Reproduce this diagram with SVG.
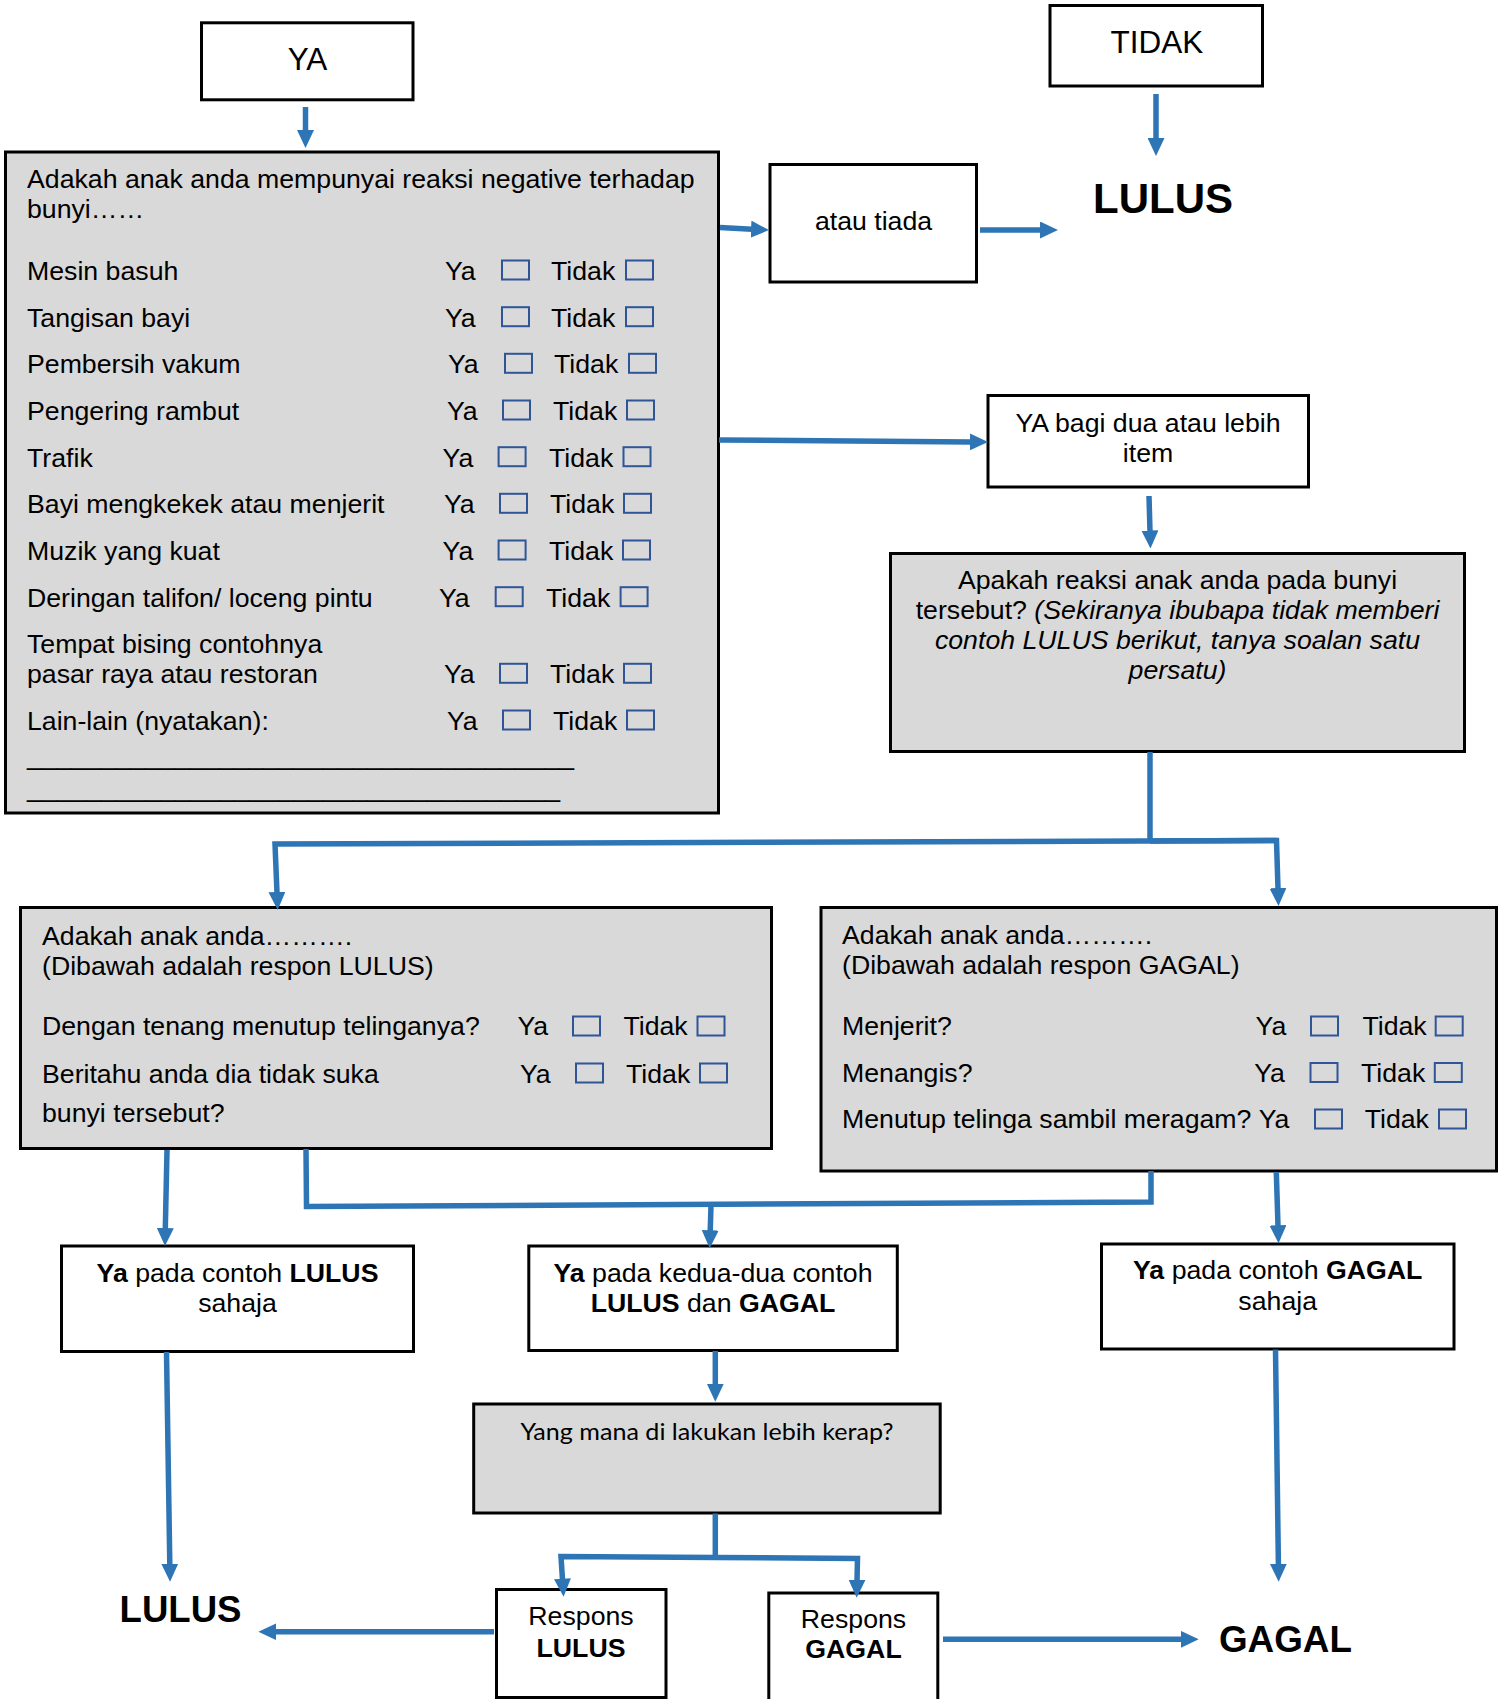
<svg xmlns="http://www.w3.org/2000/svg" xmlns:xlink="http://www.w3.org/1999/xlink" width="1502" height="1699" viewBox="0 0 1502 1699">
  <style>
    .box { fill: #ffffff; stroke: #000000; stroke-width: 3; }
    .gbox { fill: #D9D9D9; stroke: #000000; stroke-width: 3; }
    .t { font-family: "Liberation Sans", Arial, sans-serif; font-size: 26.7px; fill: #000000; }
    .big { font-family: "Liberation Sans", Arial, sans-serif; font-size: 31.5px; fill: #000000; }
    .res { font-family: "Liberation Sans", Arial, sans-serif; font-weight: bold; fill: #000000; }
    .mid { text-anchor: middle; }
    .b { font-weight: bold; }
    .i { font-style: italic; }
    .cal { font-family: Lato, "Open Sans", sans-serif; font-size: 23px; fill: #000000; }
    .cb { fill: none; stroke: #2F5597; stroke-width: 2; }
    .c { fill: none; stroke: #2E75B6; stroke-width: 5.5; stroke-linejoin: miter; }
    .a { marker-end: url(#ah); }
  </style>
  <defs>
    <marker id="ah" viewBox="0 0 18 17" refX="1" refY="8.5" markerWidth="18" markerHeight="17" markerUnits="userSpaceOnUse" orient="auto">
      <path d="M0,0 L18,8.5 L0,17 z" fill="#2E75B6"/>
    </marker>
    <rect id="cbx" class="cb" width="27" height="19"/>
  </defs>

  <rect width="1502" height="1699" fill="#ffffff"/>

  <!-- top answer boxes -->
  <g id="ya">
    <rect class="box" x="201.5" y="22.8" width="211.5" height="77"/>
    <text class="big mid" x="307.5" y="70">YA</text>
  </g>
  <g id="tidak">
    <rect class="box" x="1050" y="5.5" width="212.5" height="80.5"/>
    <text class="big mid" x="1157" y="52.7">TIDAK</text>
  </g>
  <g id="lulus-top">
    <text class="res" x="1093" y="213.3" font-size="42">LULUS</text>
  </g>

  <!-- sound checklist -->
  <g id="senarai-bunyi">
    <rect class="gbox" x="5.5" y="152" width="713" height="661"/>
    <text class="t" x="27" y="188.3">Adakah anak anda mempunyai reaksi negative terhadap</text>
    <text class="t" x="27" y="218.3">bunyi……</text>

    <text class="t" x="27" y="280">Mesin basuh</text>
    <text class="t" x="445" y="280">Ya</text><use href="#cbx" x="502" y="260.5"/>
    <text class="t" x="551" y="280">Tidak</text><use href="#cbx" x="626" y="260.5"/>

    <text class="t" x="27" y="326.7">Tangisan bayi</text>
    <text class="t" x="445" y="326.7">Ya</text><use href="#cbx" x="502" y="307.2"/>
    <text class="t" x="551" y="326.7">Tidak</text><use href="#cbx" x="626" y="307.2"/>

    <text class="t" x="27" y="373.3">Pembersih vakum</text>
    <text class="t" x="448" y="373.3">Ya</text><use href="#cbx" x="505" y="353.8"/>
    <text class="t" x="554" y="373.3">Tidak</text><use href="#cbx" x="629" y="353.8"/>

    <text class="t" x="27" y="420">Pengering rambut</text>
    <text class="t" x="447" y="420">Ya</text><use href="#cbx" x="503" y="400.5"/>
    <text class="t" x="553" y="420">Tidak</text><use href="#cbx" x="627" y="400.5"/>

    <text class="t" x="27" y="466.7">Trafik</text>
    <text class="t" x="442.6" y="466.7">Ya</text><use href="#cbx" x="498.6" y="447.2"/>
    <text class="t" x="549" y="466.7">Tidak</text><use href="#cbx" x="623.5" y="447.2"/>

    <text class="t" x="27" y="513.3">Bayi mengkekek atau menjerit</text>
    <text class="t" x="444" y="513.3">Ya</text><use href="#cbx" x="500" y="493.8"/>
    <text class="t" x="550" y="513.3">Tidak</text><use href="#cbx" x="624" y="493.8"/>

    <text class="t" x="27" y="560">Muzik yang kuat</text>
    <text class="t" x="442.6" y="560">Ya</text><use href="#cbx" x="498.6" y="540.5"/>
    <text class="t" x="549" y="560">Tidak</text><use href="#cbx" x="623" y="540.5"/>

    <text class="t" x="27" y="606.7">Deringan talifon/ loceng pintu</text>
    <text class="t" x="439" y="606.7">Ya</text><use href="#cbx" x="495.7" y="587.2"/>
    <text class="t" x="546" y="606.7">Tidak</text><use href="#cbx" x="620.6" y="587.2"/>

    <text class="t" x="27" y="653.3">Tempat bising contohnya</text>
    <text class="t" x="27" y="683.3">pasar raya atau restoran</text>
    <text class="t" x="444" y="683.3">Ya</text><use href="#cbx" x="500" y="663.8"/>
    <text class="t" x="550" y="683.3">Tidak</text><use href="#cbx" x="624" y="663.8"/>

    <text class="t" x="27" y="730">Lain-lain (nyatakan):</text>
    <text class="t" x="447" y="730">Ya</text><use href="#cbx" x="503" y="710.5"/>
    <text class="t" x="553" y="730">Tidak</text><use href="#cbx" x="627" y="710.5"/>

    <text class="t" x="27" y="765" textLength="547" lengthAdjust="spacingAndGlyphs">_____________________________________</text>
    <text class="t" x="27" y="797" textLength="533" lengthAdjust="spacingAndGlyphs">____________________________________</text>
  </g>

  <g id="atau-tiada">
    <rect class="box" x="770" y="164.5" width="206.5" height="117.5"/>
    <text class="t mid" x="873.5" y="230">atau tiada</text>
  </g>

  <g id="ya-dua-item">
    <rect class="box" x="988" y="395.5" width="320.5" height="91.5"/>
    <text class="t mid" x="1148" y="431.7">YA bagi dua atau lebih</text>
    <text class="t mid" x="1148" y="461.7">item</text>
  </g>

  <g id="reaksi">
    <rect class="gbox" x="890.5" y="553.5" width="574" height="198"/>
    <text class="t mid" x="1177.5" y="589.3">Apakah reaksi anak anda pada bunyi</text>
    <text class="t mid" x="1177.5" y="619.3">tersebut? <tspan class="i">(Sekiranya ibubapa tidak memberi</tspan></text>
    <text class="t mid i" x="1177.5" y="649.3">contoh LULUS berikut, tanya soalan satu</text>
    <text class="t mid i" x="1177.5" y="679.3">persatu)</text>
  </g>

  <g id="respon-lulus">
    <rect class="gbox" x="20.5" y="907.5" width="751" height="241"/>
    <text class="t" x="42" y="945">Adakah anak anda……….</text>
    <text class="t" x="42" y="975">(Dibawah adalah respon LULUS)</text>
    <text class="t" x="42" y="1035">Dengan tenang menutup telinganya?</text>
    <text class="t" x="517.4" y="1035">Ya</text><use href="#cbx" x="573" y="1016.5"/>
    <text class="t" x="623.4" y="1035">Tidak</text><use href="#cbx" x="697.5" y="1016.5"/>
    <text class="t" x="42" y="1083.3">Beritahu anda dia tidak suka</text>
    <text class="t" x="520" y="1083.3">Ya</text><use href="#cbx" x="576" y="1063.5"/>
    <text class="t" x="626" y="1083.3">Tidak</text><use href="#cbx" x="700" y="1063.5"/>
    <text class="t" x="42" y="1121.7">bunyi tersebut?</text>
  </g>

  <g id="respon-gagal">
    <rect class="gbox" x="821" y="907.5" width="675.5" height="263.5"/>
    <text class="t" x="842" y="944">Adakah anak anda……….</text>
    <text class="t" x="842" y="974">(Dibawah adalah respon GAGAL)</text>
    <text class="t" x="842" y="1035">Menjerit?</text>
    <text class="t" x="1255.6" y="1035">Ya</text><use href="#cbx" x="1311" y="1016.5"/>
    <text class="t" x="1362.4" y="1035">Tidak</text><use href="#cbx" x="1435.7" y="1016.5"/>
    <text class="t" x="842" y="1081.7">Menangis?</text>
    <text class="t" x="1254.2" y="1081.7">Ya</text><use href="#cbx" x="1310.5" y="1063"/>
    <text class="t" x="1361" y="1081.7">Tidak</text><use href="#cbx" x="1434.8" y="1063"/>
    <text class="t" x="842" y="1128.3">Menutup telinga sambil meragam?</text>
    <text class="t" x="1258.8" y="1128.3">Ya</text><use href="#cbx" x="1315" y="1109.5"/>
    <text class="t" x="1364.7" y="1128.3">Tidak</text><use href="#cbx" x="1439" y="1109.5"/>
  </g>

  <g id="ya-lulus-sahaja">
    <rect class="box" x="61.5" y="1246" width="352" height="105.5"/>
    <text class="t mid" x="237.5" y="1281.7"><tspan class="b">Ya</tspan> pada contoh <tspan class="b">LULUS</tspan></text>
    <text class="t mid" x="237.5" y="1311.7">sahaja</text>
  </g>

  <g id="ya-kedua-dua">
    <rect class="box" x="528.8" y="1246" width="368.5" height="104.5"/>
    <text class="t mid" x="713" y="1281.7"><tspan class="b">Ya</tspan> pada kedua-dua contoh</text>
    <text class="t mid" x="713" y="1311.7"><tspan class="b">LULUS</tspan> dan <tspan class="b">GAGAL</tspan></text>
  </g>

  <g id="ya-gagal-sahaja">
    <rect class="box" x="1101.5" y="1244" width="352.5" height="105"/>
    <text class="t mid" x="1277.7" y="1279.3"><tspan class="b">Ya</tspan> pada contoh <tspan class="b">GAGAL</tspan></text>
    <text class="t mid" x="1277.7" y="1310">sahaja</text>
  </g>

  <g id="lebih-kerap">
    <rect class="gbox" x="473.7" y="1404" width="466.5" height="109"/>
    <text class="cal mid" x="707" y="1440" textLength="373" lengthAdjust="spacingAndGlyphs">Yang mana di lakukan lebih kerap?</text>
  </g>

  <g id="respons-lulus">
    <rect class="box" x="496.5" y="1589.5" width="169.5" height="108"/>
    <text class="t mid" x="581" y="1625">Respons</text>
    <text class="t mid b" x="581" y="1656.7">LULUS</text>
  </g>

  <g id="respons-gagal">
    <rect class="box" x="768.8" y="1593" width="169" height="112"/>
    <text class="t mid" x="853.5" y="1628.3">Respons</text>
    <text class="t mid b" x="853.5" y="1658.3">GAGAL</text>
  </g>

  <g id="lulus-bawah">
    <text class="res" x="119.6" y="1621.7" font-size="36.6">LULUS</text>
  </g>
  <g id="gagal-bawah">
    <text class="res" x="1219" y="1651.7" font-size="36.8">GAGAL</text>
  </g>

  <!-- connectors -->
  <g id="connectors">
    <path class="c a" d="M305.5,107 L305.5,131"/>
    <path class="c a" d="M720,227.5 L752,229.2"/>
    <path class="c a" d="M980,230 L1041,230"/>
    <path class="c a" d="M1156,94 L1156,139"/>
    <path class="c a" d="M719,440 L971,441.9"/>
    <path class="c a" d="M1149,496 L1150,531.5"/>

    <path class="c" d="M1150,752 L1150,842"/>
    <path class="c a" d="M1276.5,840.5 L275,844 L277,893"/>
    <path class="c a" d="M1150,841 L1276.5,840.5 L1278,889"/>

    <path class="c a" d="M167,1150 L165.3,1229"/>
    <path class="c" d="M306,1149 L306.5,1206.5 L1151,1202 L1151,1171"/>
    <path class="c a" d="M711,1205 L710.2,1231.3"/>
    <path class="c a" d="M1276.3,1172 L1278,1226.3"/>

    <path class="c a" d="M715.3,1351 L715.3,1384.7"/>
    <path class="c" d="M715.3,1513.5 L715.3,1557.5"/>
    <path class="c a" d="M715,1557.4 L561,1556.5 L562.5,1579.7"/>
    <path class="c a" d="M715,1557.4 L857.5,1558.5 L857,1580.7"/>

    <path class="c a" d="M166.5,1352 L169.8,1564.7"/>
    <path class="c a" d="M1275.5,1349.5 L1278.4,1564.7"/>
    <path class="c a" d="M494,1631.7 L275.4,1631.7"/>
    <path class="c a" d="M943,1639.3 L1181.7,1639.3"/>
  </g>
</svg>
